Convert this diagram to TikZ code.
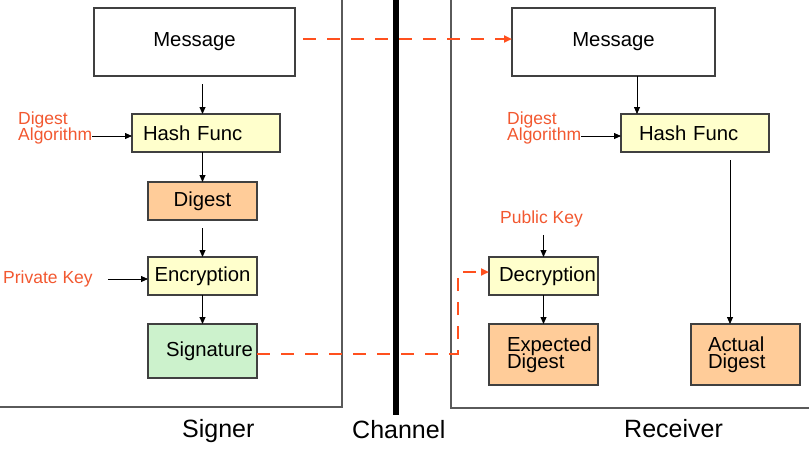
\documentclass[tikz,border=0pt]{standalone}
\usepackage{fontspec}
\setmainfont{Liberation Sans}
\usetikzlibrary{arrows.meta}
\definecolor{keyorange}{RGB}{242, 88, 48}
\definecolor{dashorange}{RGB}{255, 80, 30}
\definecolor{boxgray}{RGB}{64, 64, 64}
\definecolor{framegray}{RGB}{90, 90, 90}
\definecolor{hashfill}{RGB}{255, 255, 204}
\definecolor{digestfill}{RGB}{255, 204, 153}
\definecolor{sigfill}{RGB}{204, 242, 204}
% keep the two lines as tight as in the drawing
\newcommand{\tightlines}{\lineskiplimit=-10pt\relax}
\tikzset{
	signing/.is family,
	signing/.cd,
	box/.style = {
		draw = boxgray,
		line width = 1.1pt,
		outer sep = 0pt,
		inner ysep = 0pt,
		align = left,
		font = \fontsize{20.3}{16.5}\selectfont\tightlines,
	},
	key label/.style = {
		text = keyorange,
		inner sep = 0pt,
		anchor = base west,
		align = left,
		font = \fontsize{17.5}{16}\selectfont\tightlines,
	},
	party label/.style = {
		inner sep = 0pt,
		anchor = base west,
		font = \fontsize{25}{30}\selectfont,
	},
	flow/.style = {
		line width = 0.8pt,
		-{Triangle[length = 7pt, width = 6pt]},
	},
	transfer/.style = {
		draw = dashorange,
		line width = 2.2pt,
		dash pattern = on 13pt off 11pt,
		-{Triangle[length = 8pt, width = 7pt]},
	},
	frame/.style = {
		draw = framegray,
		line width = 1.4pt,
	},
}

\begin{document}
\begin{tikzpicture}[x = 1pt, y = -1pt]
	\useasboundingbox (0, 0) rectangle (809, 451);

	% panels and channel
	\draw[signing/frame] (342, -2) -- (342, 407) -- (-2, 407);
	\draw[signing/frame] (451, -2) -- (451, 408) -- (811, 408);
	\draw[line width = 5.5pt] (396, -2) -- (396, 415);

	% signer side
	\node[signing/box, text width = 201pt, inner xsep = 0pt, align = center, minimum height = 68pt] (msgS) at (194.5, 42) {Message};
	\node[signing/box, text width = 126pt, inner xsep = 11pt, minimum height = 38pt, fill = hashfill] (hashS) at (206, 133) {Hash Func};
	\node[signing/box, text width = 109pt, inner xsep = 0pt, align = center, minimum height = 38pt, fill = digestfill] (digestS) at (202.5, 201) {Digest};
	\node[signing/box, text width = 109pt, inner xsep = 0pt, align = center, minimum height = 38pt, fill = hashfill] (encrypt) at (202.5, 276) {Encryption};
	\node[signing/box, text width = 73pt, inner xsep = 18pt, minimum height = 54pt, fill = sigfill] (signature) at (202.5, 351) {Signature};

	\node[signing/key label] (algS) at (18, 140) {Digest\\Algorithm};
	\node[signing/key label] (privkey) at (3, 283) {Private Key};

	% receiver side
	\node[signing/box, text width = 203pt, inner xsep = 0pt, align = center, minimum height = 68pt] (msgR) at (613.5, 42) {Message};
	\node[signing/box, text width = 112pt, inner xsep = 18pt, minimum height = 38pt, fill = hashfill] (hashR) at (695, 133) {Hash Func};
	\node[signing/box, text width = 89pt, inner xsep = 10pt, minimum height = 38pt, fill = hashfill] (decrypt) at (543.5, 276) {Decryption};
	\node[signing/box, text width = 73pt, inner xsep = 18pt, minimum height = 61pt, fill = digestfill] (expected) at (543.5, 354.5) {Expected\\Digest};
	\node[signing/box, text width = 75pt, inner xsep = 17pt, minimum height = 61pt, fill = digestfill] (actual) at (745.5, 354.5) {Actual\\Digest};

	\node[signing/key label] (algR) at (507, 140) {Digest\\Algorithm};
	\node[signing/key label] (pubkey) at (500, 223) {Public Key};

	\node[signing/party label] (signer) at (182, 437) {Signer};
	\node[signing/party label] (channel) at (352, 438) {Channel};
	\node[signing/party label] (receiver) at (624, 437) {Receiver};

	% signer arrows
	\coordinate (hashSin) at ([yshift = -3pt]hashS.west);
	\coordinate (encryptIn) at ([yshift = -3pt]encrypt.west);
	\draw[signing/flow, shorten <= 8pt] (msgS.south -| digestS) -- (hashS.north -| digestS);
	\draw[signing/flow] (hashS.south -| digestS) -- (digestS.north);
	\draw[signing/flow, shorten <= 8pt] (digestS) -- (encrypt);
	\draw[signing/flow] (encrypt) -- (signature);
	\draw[signing/flow] (algS.east |- hashSin) -- (hashSin);
	\draw[signing/flow, shorten <= 15pt] (privkey.east |- encryptIn) -- (encryptIn);

	% receiver arrows
	\coordinate (hashRin) at ([xshift = 16pt]hashR.north west);
	\coordinate (hashRout) at ([xshift = 109pt]hashR.south west);
	\coordinate (hashRalg) at ([yshift = -3pt]hashR.west);
	\draw[signing/flow] (hashRin |- msgR.south) -- (hashRin);
	\draw[signing/flow, shorten <= 8pt] (hashRout) -- (hashRout |- actual.north);
	\draw[signing/flow] (algR.east |- hashRalg) -- (hashRalg);
	\draw[signing/flow, shorten <= 8pt] (pubkey.south -| decrypt) -- (decrypt);
	\draw[signing/flow] (decrypt) -- (expected);

	% over the channel
	\coordinate (sigOut) at ([yshift = -3pt]signature.east);
	\coordinate (sigTurn) at (458, 0);
	\coordinate (decryptIn) at ([yshift = 4pt]decrypt.west);
	\draw[signing/transfer, shorten <= 8pt] ([yshift = 3pt]msgS.east) -- ([yshift = 3pt]msgR.west);
	\draw[signing/transfer] (sigOut) -| (sigTurn |- decryptIn) -- (decryptIn);
\end{tikzpicture}
\end{document}
